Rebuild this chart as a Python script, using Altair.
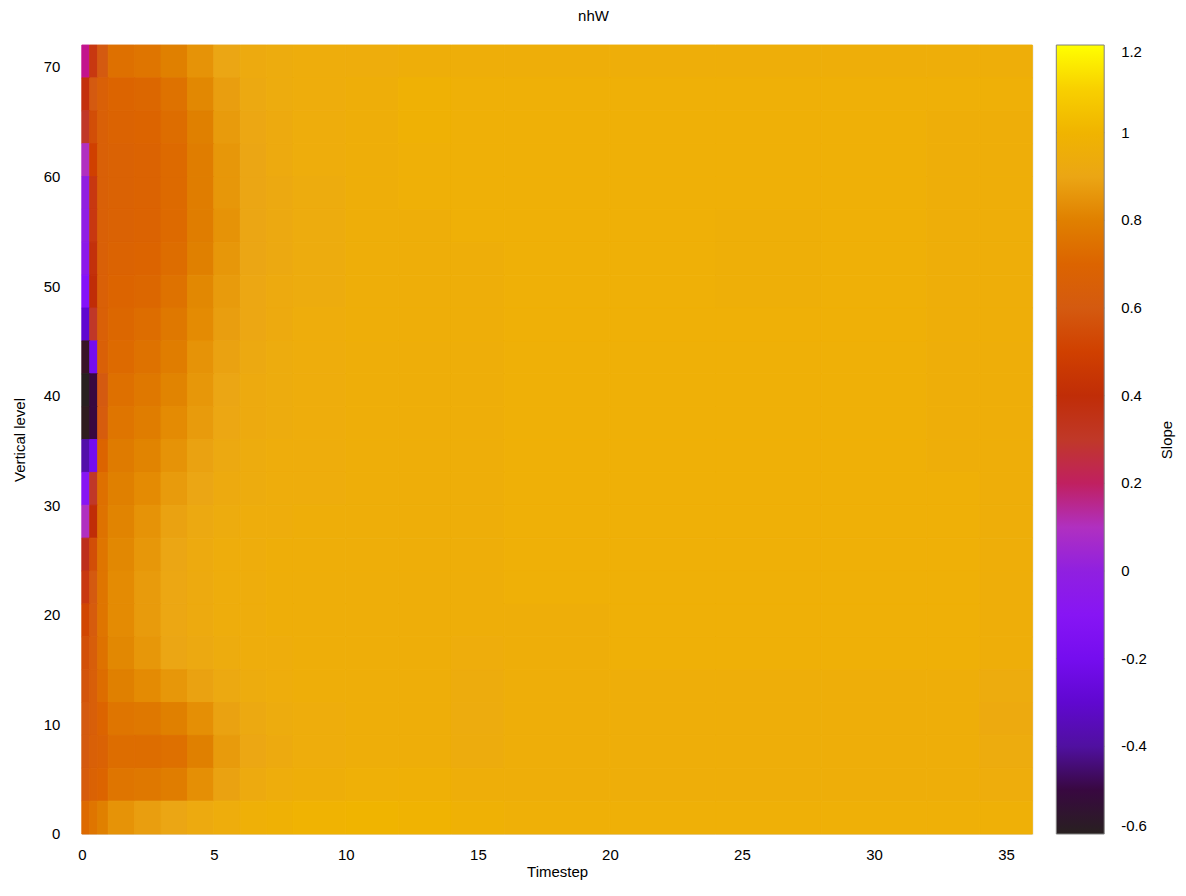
import altair as alt
import pandas as pd

# Grid edges (timestep on x, vertical level on y)
T_EDGES = [0, 0.3, 0.6, 1, 2, 3, 4, 5, 6, 7, 8, 10, 12, 14, 16, 20, 24, 28, 32, 34, 36]
L_EDGES = [0, 3, 6, 9, 12, 15, 18, 21, 24, 27, 30, 33, 36, 39, 42, 45, 48, 51, 54, 57, 60, 63, 66, 69, 72]

# Slope values, one row per level band, listed from top (69-72) to bottom (0-3)
SLOPE_ROWS = [
    [0.15, 0.45, 0.60, 0.74, 0.76, 0.80, 0.85, 0.90, 0.93, 0.94, 0.95, 0.95, 0.96, 0.96, 0.96, 0.96, 0.96, 0.96, 0.96, 0.96],
    [0.42, 0.60, 0.66, 0.70, 0.71, 0.75, 0.82, 0.88, 0.92, 0.94, 0.95, 0.96, 0.98, 0.97, 0.97, 0.97, 0.97, 0.97, 0.97, 0.97],
    [0.30, 0.55, 0.66, 0.69, 0.70, 0.73, 0.80, 0.87, 0.91, 0.93, 0.95, 0.96, 0.98, 0.97, 0.97, 0.97, 0.97, 0.97, 0.96, 0.96],
    [0.10, 0.50, 0.66, 0.68, 0.69, 0.72, 0.79, 0.86, 0.90, 0.93, 0.95, 0.96, 0.97, 0.97, 0.97, 0.97, 0.97, 0.97, 0.96, 0.96],
    [0.00, 0.45, 0.66, 0.68, 0.69, 0.72, 0.79, 0.86, 0.90, 0.92, 0.94, 0.96, 0.97, 0.97, 0.97, 0.97, 0.97, 0.97, 0.96, 0.96],
    [-0.02, 0.45, 0.66, 0.68, 0.69, 0.72, 0.79, 0.85, 0.90, 0.92, 0.94, 0.96, 0.96, 0.97, 0.97, 0.97, 0.965, 0.97, 0.96, 0.96],
    [-0.05, 0.42, 0.66, 0.69, 0.70, 0.73, 0.80, 0.86, 0.90, 0.92, 0.94, 0.96, 0.96, 0.96, 0.97, 0.97, 0.965, 0.97, 0.96, 0.96],
    [-0.12, 0.40, 0.66, 0.70, 0.71, 0.75, 0.82, 0.87, 0.91, 0.93, 0.94, 0.96, 0.96, 0.96, 0.97, 0.97, 0.965, 0.97, 0.96, 0.96],
    [-0.30, 0.30, 0.66, 0.71, 0.73, 0.77, 0.83, 0.88, 0.91, 0.93, 0.95, 0.96, 0.96, 0.96, 0.97, 0.97, 0.97, 0.97, 0.96, 0.96],
    [-0.55, -0.20, 0.66, 0.72, 0.75, 0.79, 0.85, 0.89, 0.92, 0.94, 0.95, 0.96, 0.96, 0.96, 0.97, 0.97, 0.97, 0.97, 0.96, 0.96],
    [-0.60, -0.50, 0.60, 0.74, 0.77, 0.81, 0.86, 0.90, 0.93, 0.94, 0.95, 0.96, 0.96, 0.96, 0.97, 0.97, 0.97, 0.97, 0.96, 0.96],
    [-0.58, -0.50, 0.62, 0.76, 0.79, 0.83, 0.87, 0.91, 0.93, 0.94, 0.95, 0.96, 0.96, 0.96, 0.97, 0.97, 0.97, 0.97, 0.96, 0.96],
    [-0.38, -0.20, 0.70, 0.78, 0.81, 0.85, 0.89, 0.92, 0.94, 0.95, 0.95, 0.96, 0.96, 0.96, 0.97, 0.97, 0.97, 0.97, 0.96, 0.96],
    [-0.10, 0.30, 0.74, 0.80, 0.83, 0.87, 0.90, 0.93, 0.94, 0.95, 0.95, 0.96, 0.96, 0.96, 0.97, 0.97, 0.97, 0.97, 0.97, 0.96],
    [0.10, 0.40, 0.75, 0.81, 0.85, 0.89, 0.92, 0.94, 0.95, 0.95, 0.96, 0.96, 0.96, 0.96, 0.97, 0.97, 0.97, 0.97, 0.97, 0.96],
    [0.32, 0.55, 0.76, 0.82, 0.86, 0.90, 0.93, 0.95, 0.95, 0.96, 0.96, 0.96, 0.96, 0.96, 0.97, 0.97, 0.97, 0.97, 0.97, 0.96],
    [0.45, 0.60, 0.76, 0.83, 0.87, 0.91, 0.93, 0.95, 0.95, 0.96, 0.96, 0.96, 0.96, 0.96, 0.97, 0.97, 0.97, 0.97, 0.97, 0.96],
    [0.52, 0.62, 0.76, 0.83, 0.87, 0.91, 0.93, 0.95, 0.95, 0.96, 0.96, 0.96, 0.96, 0.96, 0.96, 0.97, 0.97, 0.97, 0.97, 0.96],
    [0.56, 0.64, 0.75, 0.82, 0.86, 0.90, 0.92, 0.94, 0.95, 0.95, 0.96, 0.96, 0.96, 0.95, 0.96, 0.97, 0.97, 0.97, 0.97, 0.96],
    [0.58, 0.65, 0.73, 0.80, 0.83, 0.86, 0.89, 0.92, 0.94, 0.95, 0.96, 0.96, 0.96, 0.945, 0.96, 0.96, 0.96, 0.96, 0.96, 0.94],
    [0.60, 0.65, 0.70, 0.76, 0.77, 0.80, 0.84, 0.89, 0.92, 0.94, 0.95, 0.96, 0.96, 0.94, 0.96, 0.96, 0.96, 0.96, 0.96, 0.93],
    [0.60, 0.66, 0.68, 0.73, 0.73, 0.74, 0.80, 0.87, 0.91, 0.93, 0.95, 0.96, 0.96, 0.945, 0.96, 0.96, 0.96, 0.96, 0.96, 0.94],
    [0.62, 0.68, 0.70, 0.76, 0.77, 0.79, 0.84, 0.89, 0.93, 0.95, 0.96, 0.97, 0.975, 0.96, 0.96, 0.96, 0.96, 0.96, 0.96, 0.95],
    [0.72, 0.76, 0.80, 0.85, 0.88, 0.90, 0.93, 0.95, 0.97, 0.98, 0.99, 1.00, 0.99, 0.98, 0.97, 0.97, 0.97, 0.97, 0.97, 0.97],
]

# Palette stops (value -> colour)
PAL_STOPS = [-0.6, -0.5, -0.4, -0.3, -0.15, 0.0, 0.1, 0.2, 0.3, 0.35, 0.45, 0.5, 0.6, 0.7, 0.8, 0.9, 1.0, 1.1, 1.2]
PAL_COLORS = ["#282020", "#380840", "#5010a0", "#6008d0", "#8010ff", "#9020e0", "#b030c0", "#c02060",
              "#c03828", "#b82000", "#c83810", "#d04000", "#d45a10", "#dc6400", "#e08000", "#eba614",
              "#f0b400", "#f8d000", "#ffff00"]

X_TICKS = [0, 5, 10, 15, 20, 25, 30, 35]
Y_TICKS = [0, 10, 20, 30, 40, 50, 60, 70]
CB_TICKS = [-0.6, -0.4, -0.2, 0, 0.2, 0.4, 0.6, 0.8, 1, 1.2]
CB_INNER_TICKS = [-0.4, -0.2, 0, 0.2, 0.4, 0.6, 0.8, 1]

n_rows = len(L_EDGES) - 1
records = []
for i, row in enumerate(SLOPE_ROWS):
    r = n_rows - 1 - i
    for j, v in enumerate(row):
        records.append({"t0": T_EDGES[j], "t1": T_EDGES[j + 1],
                        "l0": L_EDGES[r], "l1": L_EDGES[r + 1], "slope": v})
df = pd.DataFrame(records)

FONT = "Liberation Sans"
W, H = 953, 791
CB_LEFT, CB_W = 977, 48

cscale = alt.Scale(type="linear", domain=PAL_STOPS, range=PAL_COLORS, clamp=True)

heat = alt.Chart(df).mark_rect(
    stroke=alt.expr("scale('color', datum.slope)"), strokeWidth=0.9
).encode(
    x=alt.X("t0:Q", scale=alt.Scale(domain=[0, 36], nice=False, zero=False),
            axis=alt.Axis(values=X_TICKS, title="Timestep", grid=False, ticks=False, tickSize=0,
                          domain=False, labelFlush=False, labelPadding=14, titlePadding=2,
                          labelFontSize=15, titleFontSize=15, titleFontWeight="normal",
                          labelFont=FONT, titleFont=FONT, labelColor="#000", titleColor="#000")),
    x2="t1:Q",
    y=alt.Y("l0:Q", scale=alt.Scale(domain=[0, 72], nice=False, zero=False),
            axis=alt.Axis(values=Y_TICKS, title="Vertical level", grid=False, ticks=False, tickSize=0,
                          domain=False, labelFlush=False, labelPadding=22, titlePadding=16,
                          labelFontSize=15, titleFontSize=15, titleFontWeight="normal",
                          labelFont=FONT, titleFont=FONT, labelColor="#000", titleColor="#000")),
    y2="l1:Q",
    color=alt.Color("slope:Q", scale=cscale,
                    legend=alt.Legend(type="gradient", orient="none", legendX=CB_LEFT, legendY=0,
                                      direction="vertical",
                                      gradientLength=H, gradientThickness=CB_W, title=None,
                                      values=CB_TICKS, labelExpr="'' + datum.value",
                                      labelFontSize=15, labelFont=FONT, labelColor="#000",
                                      labelOffset=17, labelBaseline="middle", labelOverlap=False,
                                      gradientStrokeColor="#808080", gradientStrokeWidth=1)),
)

tick_df = pd.DataFrame({"v": CB_INNER_TICKS})
cb_y = alt.Y("v:Q", scale=alt.Scale(domain=[-0.6, 1.2], nice=False, zero=False), axis=None)
cb_ticks_left = alt.Chart(tick_df).mark_rule(color="#333", strokeWidth=1).encode(
    y=cb_y, x=alt.value(CB_LEFT), x2=alt.value(CB_LEFT + 7))
cb_ticks_right = alt.Chart(tick_df).mark_rule(color="#333", strokeWidth=1).encode(
    y=cb_y, x=alt.value(CB_LEFT + CB_W - 7), x2=alt.value(CB_LEFT + CB_W))

slope_label = alt.Chart(pd.DataFrame({"label": ["Slope"]})).mark_text(
    angle=270, fontSize=15, font=FONT, color="#000", align="center", baseline="middle"
).encode(x=alt.value(1088), y=alt.value(396), text="label:N")

title_label = alt.Chart(pd.DataFrame({"label": ["nhW"]})).mark_text(
    fontSize=15, font=FONT, color="#000", align="center", baseline="middle"
).encode(x=alt.value(513), y=alt.value(-29), text="label:N")

chart = alt.layer(heat, cb_ticks_left, cb_ticks_right, slope_label, title_label).resolve_scale(
    y="independent"
).properties(
    width=W, height=H,
    autosize=alt.AutoSizeParams(type="none"),
    padding={"left": 74, "top": 36, "right": 146, "bottom": 50},
).configure_view(stroke="#000", strokeWidth=1.5).configure(background="white")

chart.save("out.html", embed_options={"renderer": "svg", "actions": False})
